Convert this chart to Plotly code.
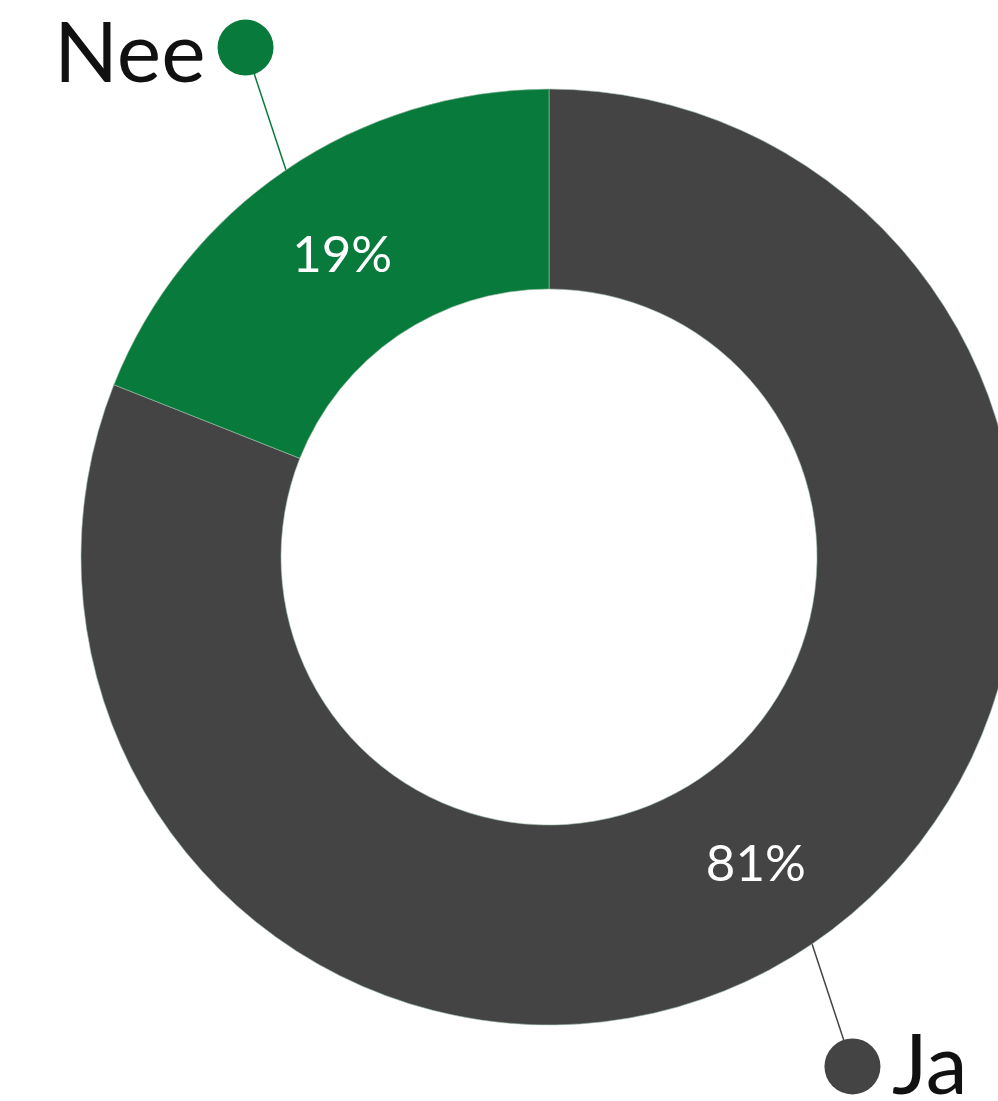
import math
import plotly.graph_objects as go

# ---- data ----
labels = ["Ja", "Nee"]
values = [81, 19]
colors = ["#444444", "#087A3C"]

# ---- layout geometry (pixels) ----
W, H = 1040, 1101
CX, CY = 549, 557
R_OUT, R_IN = 468, 268
DOT_R = 593

FONT = "Lato"

fig = go.Figure()

fig.add_trace(go.Pie(
    labels=labels,
    values=values,
    marker=dict(colors=colors, line=dict(color="#9FBFA9", width=0.6)),
    hole=R_IN / R_OUT,
    sort=False,
    direction="clockwise",
    rotation=0,
    textinfo="percent",
    texttemplate="%{percent:.0%}",
    textposition="inside",
    insidetextorientation="horizontal",
    textfont=dict(family=FONT, size=51, color="white"),
    domain=dict(x=[(CX - R_OUT) / W, (CX + R_OUT) / W],
                y=[(H - CY - R_OUT) / H, (H - CY + R_OUT) / H]),
    showlegend=False,
    hoverinfo="label+percent",
))

# leader lines + dots, computed from data angles
total = sum(values)
cum = 0
for lab, val, col in zip(labels, values, colors):
    mid = (cum + val / 2) / total * 2 * math.pi  # clockwise from 12 o'clock
    cum += val
    dev = math.atan2(math.sin(mid), math.cos(mid))
    if abs(dev) > math.pi / 2:
        base = math.pi if dev > 0 else -math.pi
    else:
        base = 0.0
    dot_ang = base + (dev - base) * 0.9
    x0 = CX + R_OUT * math.sin(mid)
    y0 = CY - R_OUT * math.cos(mid)
    x1 = CX + DOT_R * math.sin(dot_ang)
    y1 = CY - DOT_R * math.cos(dot_ang)
    fig.add_trace(go.Scatter(
        x=[x0, x1], y=[y0, y1], mode="lines",
        line=dict(color=col, width=1.5),
        xaxis="x", yaxis="y", showlegend=False, hoverinfo="skip"))
    fig.add_trace(go.Scatter(
        x=[x1], y=[y1], mode="markers",
        marker=dict(color=col, size=56, line=dict(width=0)),
        xaxis="x", yaxis="y", showlegend=False, hoverinfo="skip"))
    left = x1 < CX
    fig.add_annotation(
        x=x1 + (-38 if left else 38), y=y1 + (2 if left else -5), xref="x", yref="y",
        text=lab, showarrow=False,
        xanchor="right" if left else "left", yanchor="middle",
        font=dict(family=FONT, size=84, color="#111111"))

fig.update_layout(
    width=W, height=H, autosize=False,
    margin=dict(l=0, r=0, t=0, b=0),
    paper_bgcolor="white", plot_bgcolor="rgba(0,0,0,0)",
    xaxis=dict(range=[0, W], visible=False, fixedrange=True, domain=[0, 1]),
    yaxis=dict(range=[H, 0], visible=False, fixedrange=True, domain=[0, 1]),
)

fig.write_html("out.html",
               config={"displayModeBar": False},
               post_script="document.body.style.margin='0';document.body.style.overflow='hidden';")
